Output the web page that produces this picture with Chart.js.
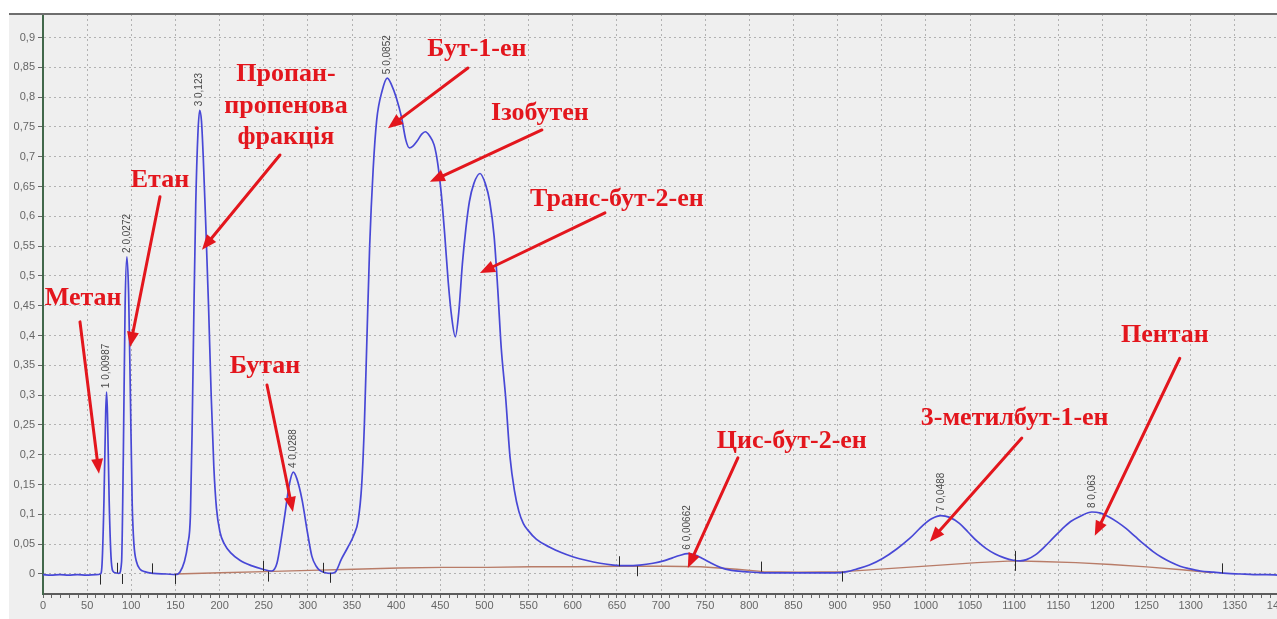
<!DOCTYPE html>
<html>
<head>
<meta charset="utf-8">
<script src="https://cdn.jsdelivr.net/npm/chart.js@4.4.1/dist/chart.umd.min.js"></script>
<style>
  html, body { margin: 0; padding: 0; background: #fff; overflow: hidden; }
  #wrap { width: 1310px; height: 619px; }
</style>
</head>
<body>
<div id="wrap"><canvas id="chromatogram" width="1310" height="619"></canvas></div>
<script>
// detector trace: retention time and signal
const traceTime = [0, 9, 19, 29, 39, 49, 60, 65,
  67, 69, 71, 72, 73, 75, 77, 79, 82, 86,
  89, 91, 93, 95, 97, 99, 101, 103, 106, 110, 115, 125, 140, 150,
  155, 160, 164, 167, 169, 171, 173, 175.5, 177.5, 179.5, 181.5, 184.5, 187.5, 190.5, 193.5, 196.5, 200.5, 205.5, 213, 223, 236, 249, 259,
  265, 270, 274, 279, 283.5, 287.5, 293.5, 299.5, 304.5, 309.5, 313.5, 320, 326, 331,
  338, 345, 352, 357, 361, 364, 367, 370, 374, 378, 384, 390, 395, 400, 406, 411, 415, 419, 424, 429, 433, 438, 443,
  447, 451, 455, 459, 463, 467, 471, 475, 479, 483, 488, 495, 501, 506, 511, 515, 519, 524, 529, 534, 539, 544, 549,
  559, 574, 587, 600, 615, 631, 646, 661, 676, 691, 703, 713, 721, 730, 738, 747, 757, 767, 780, 795, 815, 836, 856,
  876, 896, 911,
  921, 936, 951, 967, 982, 997, 1007, 1017, 1027, 1038, 1048, 1058, 1068, 1078, 1089, 1099, 1107,
  1114, 1124, 1134, 1144, 1154, 1164, 1175, 1188, 1198, 1207, 1217, 1227, 1237, 1247, 1257, 1267, 1277, 1288, 1298,
  1311, 1326, 1341, 1356, 1371, 1386, 1400];
const traceSignal = [-0.001, -0.002, -0.001, -0.002, -0.001, -0.002, -0.001, 0,
  0.02, 0.12, 0.27, 0.305, 0.27, 0.12, 0.03, 0.005, 0.002, 0.001,
  0.02, 0.2, 0.45, 0.532, 0.47, 0.3, 0.12, 0.05, 0.02, 0.008, 0.004, 0.001, 0, -0.001,
  0.003, 0.02, 0.05, 0.1, 0.25, 0.45, 0.62, 0.74, 0.778, 0.76, 0.7, 0.58, 0.45, 0.3, 0.18, 0.11, 0.07, 0.05, 0.035, 0.023, 0.014, 0.008, 0.005,
  0.018, 0.06, 0.1, 0.15, 0.171, 0.16, 0.124, 0.07, 0.03, 0.013, 0.006, 0.002, 0.001, 0.003,
  0.025, 0.044, 0.065, 0.09, 0.15, 0.25, 0.4, 0.55, 0.68, 0.762, 0.81, 0.832, 0.82, 0.8, 0.767, 0.728, 0.715, 0.718, 0.727, 0.738, 0.742, 0.735, 0.72,
  0.69, 0.64, 0.57, 0.49, 0.43, 0.398, 0.44, 0.52, 0.58, 0.625, 0.655, 0.672, 0.655, 0.625, 0.566, 0.48, 0.38, 0.297, 0.196, 0.14, 0.105, 0.085, 0.074,
  0.058, 0.045, 0.036, 0.029, 0.023, 0.018, 0.015, 0.014, 0.015, 0.018, 0.022, 0.027, 0.031, 0.034, 0.032, 0.026, 0.018, 0.011, 0.006, 0.004, 0.002, 0.002, 0.002,
  0.002, 0.002, 0.004,
  0.008, 0.015, 0.026, 0.042, 0.06, 0.082, 0.093, 0.098, 0.095, 0.085, 0.07, 0.055, 0.043, 0.034, 0.027, 0.023, 0.022,
  0.024, 0.032, 0.045, 0.06, 0.075, 0.088, 0.097, 0.104, 0.102, 0.096, 0.087, 0.076, 0.063, 0.05, 0.038, 0.028, 0.02, 0.013, 0.009,
  0.005, 0.003, 0.001, 0, -0.001, -0.001, -0.002];

// integration baseline
const baseTime = [150, 201, 251, 302, 352, 403, 453, 503, 553, 603, 654, 705, 745, 786, 816, 856, 907, 957, 1008, 1058, 1099, 1129, 1170, 1210, 1250, 1290, 1325];
const baseSignal = [0, 0.002, 0.004, 0.006, 0.008, 0.010, 0.011, 0.011, 0.012, 0.012, 0.013, 0.013, 0.012, 0.008, 0.004, 0.003, 0.004, 0.009, 0.014, 0.019, 0.022, 0.021, 0.019, 0.016, 0.012, 0.007, 0.002];

// peak apexes and their printed labels
const peakTime = [72, 95, 177.5, 283.5, 390, 730, 1017, 1188];
const peakHeight = [0.305, 0.532, 0.778, 0.171, 0.832, 0.034, 0.098, 0.104];
const peakLabels = ['1 0,00987', '2 0,0272', '3 0,123', '4 0,0288', '5 0,0852', '6 0,00662', '7 0,0488', '8 0,063'];

// peak start / end event marks on the baseline
const startTime = [64, 90, 150, 255, 325, 673, 905, 1101];
const startLevel = [-0.001, 0, 0, 0.004, 0.002, 0.013, 0.004, 0.022];
const endTime = [84, 124, 249, 317, 652, 813, 1101, 1336];
const endLevel = [0.002, 0.001, 0.005, 0.002, 0.013, 0.004, 0.022, 0.001];

// compound names with arrows (time / signal coordinates)
const compoundNames = ['Метан', 'Етан', 'Пропан-\nпропенова\nфракція', 'Бутан', 'Бут-1-ен', 'Ізобутен',
  'Транс-бут-2-ен', 'Цис-бут-2-ен', '3-метилбут-1-ен', 'Пентан'];
const nameTime = [45.4, 132.5, 275.2, 251.4, 491.5, 562.8, 650, 848.2, 1100.6, 1270.7];
const nameSignal = [0.462, 0.661, 0.838, 0.349, 0.881, 0.773, 0.629, 0.223, 0.262, 0.401];
const arrowFromTime = [41.9, 132.5, 268.4, 253.7, 481.3, 565.1, 636.5, 787.1, 1108.7, 1287.6];
const arrowFromSignal = [0.423, 0.633, 0.703, 0.317, 0.849, 0.745, 0.606, 0.195, 0.228, 0.362];
const arrowToTime = [63.4, 98.6, 180.1, 283.1, 390.7, 438.2, 494.9, 730.4, 1004.5, 1191.3];
const arrowToSignal = [0.168, 0.381, 0.544, 0.104, 0.748, 0.658, 0.505, 0.010, 0.054, 0.064];

const xMin = 0, xMax = 1400, xMajor = 50, xMinor = 10;
const yMin = -0.0336, yMax = 0.9396, yStep = 0.05;

const tickFont = { family: 'Liberation Sans', size: 11 };
const RED = '#e3161d';

const pairs = (xs, ys) => xs.map((x, i) => ({ x: x, y: ys[i] }));

function drawArrow(ctx, x1, y1, x2, y2) {
  const ang = Math.atan2(y2 - y1, x2 - x1);
  const head = 15, half = 6;
  const bx = x2 - head * Math.cos(ang), by = y2 - head * Math.sin(ang);
  ctx.beginPath();
  ctx.moveTo(x1, y1);
  ctx.lineTo(bx, by);
  ctx.stroke();
  ctx.beginPath();
  ctx.moveTo(x2, y2);
  ctx.lineTo(bx + half * Math.sin(ang), by - half * Math.cos(ang));
  ctx.lineTo(bx - half * Math.sin(ang), by + half * Math.cos(ang));
  ctx.closePath();
  ctx.fill();
}

const frame = {
  id: 'frame',
  beforeDraw(chart) {
    const { ctx, chartArea } = chart;
    ctx.save();
    ctx.fillStyle = '#efefef';
    ctx.fillRect(9, chartArea.top, chart.width - 9, chart.height - chartArea.top);
    ctx.restore();
  },
  afterDraw(chart) {
    const { ctx, chartArea } = chart;
    ctx.save();
    ctx.strokeStyle = '#6e6e6e';
    ctx.lineWidth = 2;
    ctx.beginPath();
    ctx.moveTo(9, chartArea.top);
    ctx.lineTo(chart.width, chartArea.top);
    ctx.stroke();
    ctx.restore();
  }
};

const marks = {
  id: 'marks',
  afterDatasetsDraw(chart) {
    const { ctx } = chart;
    const xs = chart.scales.x, ys = chart.scales.y;
    ctx.save();

    // event ticks
    ctx.strokeStyle = '#2a2a2a';
    ctx.lineWidth = 1;
    startTime.forEach((t, i) => {
      const px = Math.round(xs.getPixelForValue(t)) + 0.5, py = ys.getPixelForValue(startLevel[i]);
      ctx.beginPath(); ctx.moveTo(px, py); ctx.lineTo(px, py + 10); ctx.stroke();
    });
    endTime.forEach((t, i) => {
      const px = Math.round(xs.getPixelForValue(t)) + 0.5, py = ys.getPixelForValue(endLevel[i]);
      ctx.beginPath(); ctx.moveTo(px, py); ctx.lineTo(px, py - 10); ctx.stroke();
    });

    // vertical peak labels
    ctx.fillStyle = '#4a4a4a';
    ctx.font = '10px "Liberation Sans"';
    ctx.textAlign = 'left';
    ctx.textBaseline = 'middle';
    peakTime.forEach((t, i) => {
      ctx.save();
      ctx.translate(xs.getPixelForValue(t), ys.getPixelForValue(peakHeight[i]) - 4);
      ctx.rotate(-Math.PI / 2);
      ctx.fillText(peakLabels[i], 0, 0);
      ctx.restore();
    });

    // compound names and arrows
    ctx.fillStyle = RED;
    ctx.strokeStyle = RED;
    ctx.lineWidth = 3;
    ctx.lineCap = 'round';
    ctx.font = 'bold 26px "Liberation Serif"';
    ctx.textAlign = 'center';
    ctx.textBaseline = 'middle';
    compoundNames.forEach((name, i) => {
      const cx = xs.getPixelForValue(nameTime[i]), cy = ys.getPixelForValue(nameSignal[i]);
      name.split('\n').forEach((line, k) => ctx.fillText(line, cx, cy + k * 31.5));
      drawArrow(ctx,
        xs.getPixelForValue(arrowFromTime[i]), ys.getPixelForValue(arrowFromSignal[i]),
        xs.getPixelForValue(arrowToTime[i]), ys.getPixelForValue(arrowToSignal[i]));
    });
    ctx.restore();
  }
};

new Chart(document.getElementById('chromatogram'), {
  type: 'line',
  data: {
    datasets: [
      {
        label: 'Сигнал',
        data: pairs(traceTime, traceSignal),
        borderColor: '#4848d6',
        borderWidth: 1.7,
        pointRadius: 0,
        cubicInterpolationMode: 'monotone',
        order: 1
      },
      {
        label: 'Базова лінія',
        data: pairs(baseTime, baseSignal),
        borderColor: '#b87c68',
        borderWidth: 1.4,
        pointRadius: 0,
        order: 2
      }
    ]
  },
  options: {
    responsive: false,
    animation: false,
    layout: { padding: { left: 0, top: 14, right: 31, bottom: 0 } },
    plugins: { legend: { display: false }, tooltip: { enabled: false } },
    scales: {
      x: {
        type: 'linear',
        min: xMin,
        max: xMax,
        afterFit(s) { s.height = 25; },
        afterBuildTicks(s) {
          const t = [];
          for (let v = xMin; v <= xMax; v += xMinor) t.push({ value: v });
          s.ticks = t;
        },
        ticks: {
          autoSkip: false,
          maxRotation: 0,
          color: '#666',
          font: tickFont,
          padding: 1,
          callback: v => (v % xMajor === 0 ? String(v) : '')
        },
        grid: {
          color: c => (c.tick && c.tick.value % xMajor === 0 && c.tick.value > xMin ? '#b2b2b2' : 'rgba(0,0,0,0)'),
          tickLength: 4,
          tickColor: '#666'
        },
        border: { color: '#5c5c5c', width: 2, dash: [2, 3] }
      },
      y: {
        min: yMin,
        max: yMax,
        afterFit(s) { s.width = 43; },
        ticks: {
          stepSize: yStep,
          includeBounds: false,
          maxTicksLimit: 30,
          color: '#666',
          font: tickFont,
          padding: 3,
          callback: v => String(Math.round(v * 100) / 100).replace('.', ',')
        },
        grid: { color: '#b2b2b2', tickLength: 5, tickColor: '#666' },
        border: { color: '#42684b', width: 2, dash: [2, 3] }
      }
    }
  },
  plugins: [frame, marks]
});
</script>
</body>
</html>
